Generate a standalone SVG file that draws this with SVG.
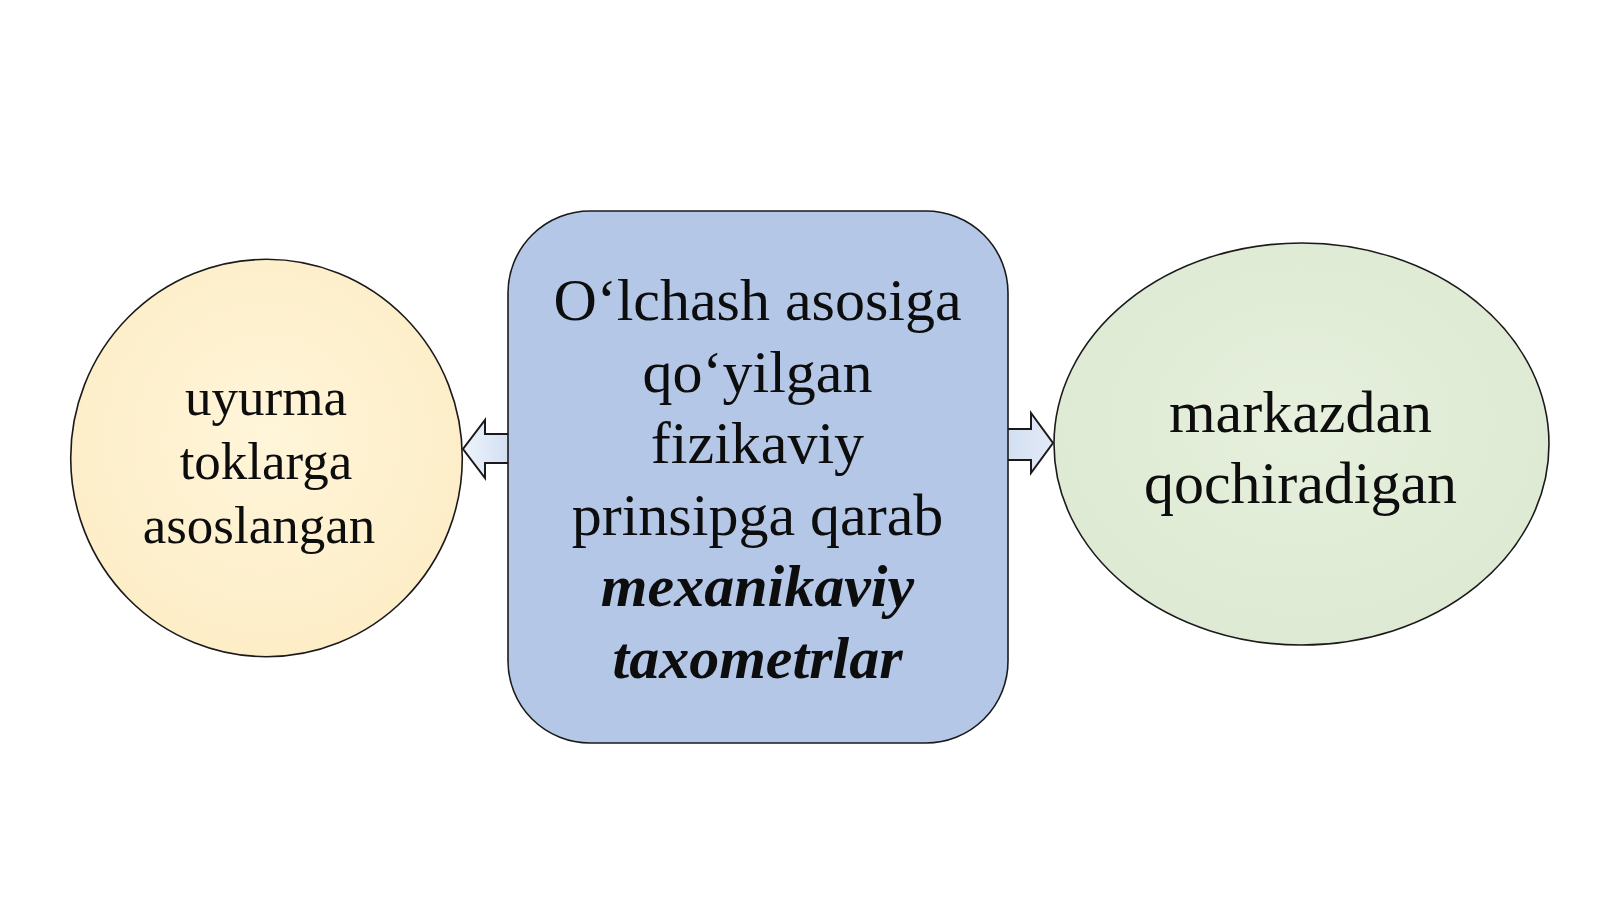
<svg xmlns="http://www.w3.org/2000/svg" width="1600" height="899" viewBox="0 0 1600 899">
  <defs>
    <radialGradient id="gYellow" cx="50%" cy="45%" r="60%">
      <stop offset="0" stop-color="#fff5d9"/>
      <stop offset="1" stop-color="#fdedc6"/>
    </radialGradient>
    <radialGradient id="gGreen" cx="50%" cy="45%" r="60%">
      <stop offset="0" stop-color="#e6f0dd"/>
      <stop offset="1" stop-color="#dde9d2"/>
    </radialGradient>
    <linearGradient id="gArrowL" x1="0" y1="0" x2="1" y2="0">
      <stop offset="0" stop-color="#edf3fb"/>
      <stop offset="1" stop-color="#d3e0f2"/>
    </linearGradient>
    <linearGradient id="gArrowR" x1="0" y1="0" x2="1" y2="0">
      <stop offset="0" stop-color="#d3e0f2"/>
      <stop offset="1" stop-color="#e2eaf6"/>
    </linearGradient>
  </defs>
  <style>
    .shape { stroke: #1a1a1a; stroke-width: 1.6; }
    .arrow { stroke: #1a1a1a; stroke-width: 2; stroke-linejoin: miter; }
    .t { font-family: "Liberation Serif", "Times New Roman", serif; fill: #0d0d0d; text-anchor: middle; }
    .big { font-size: 60px; }
    .mid { font-size: 53px; }
    .bi { font-weight: bold; font-style: italic; }
  </style>
  <rect width="1600" height="899" fill="#ffffff"/>

  <g id="connectors">
    <path class="arrow" fill="url(#gArrowL)" d="M508,434 L485,434 L485,420 L463,449 L485,478 L485,463 L508,463"/>
    <path class="arrow" fill="url(#gArrowR)" d="M1008,429 L1031,429 L1031,413 L1053,443 L1031,473 L1031,460 L1008,460"/>
  </g>

  <g id="node-left">
    <ellipse class="shape" cx="266.5" cy="458" rx="195.8" ry="198.7" fill="url(#gYellow)"/>
    <text class="t mid" x="266" y="415">uyurma</text>
    <text class="t mid" x="266" y="479">toklarga</text>
    <text class="t mid" x="259" y="543">asoslangan</text>
  </g>

  <g id="node-center">
    <rect class="shape" x="508" y="211" width="500" height="532" rx="82" ry="82" fill="#b4c7e7"/>
    <text class="t big" x="757.5" y="320">O‘lchash asosiga</text>
    <text class="t big" x="757.5" y="391.6">qo‘yilgan</text>
    <text class="t big" x="757.5" y="463.2">fizikaviy</text>
    <text class="t big" x="757.5" y="534.8">prinsipga qarab</text>
    <text class="t big bi" x="757.5" y="606.4">mexanikaviy</text>
    <text class="t big bi" x="757.5" y="678">taxometrlar</text>
  </g>

  <g id="node-right">
    <ellipse class="shape" cx="1301.5" cy="444" rx="247.5" ry="201" fill="url(#gGreen)"/>
    <text class="t big" x="1300.5" y="432">markazdan</text>
    <text class="t big" x="1300.5" y="503">qochiradigan</text>
  </g>
</svg>
